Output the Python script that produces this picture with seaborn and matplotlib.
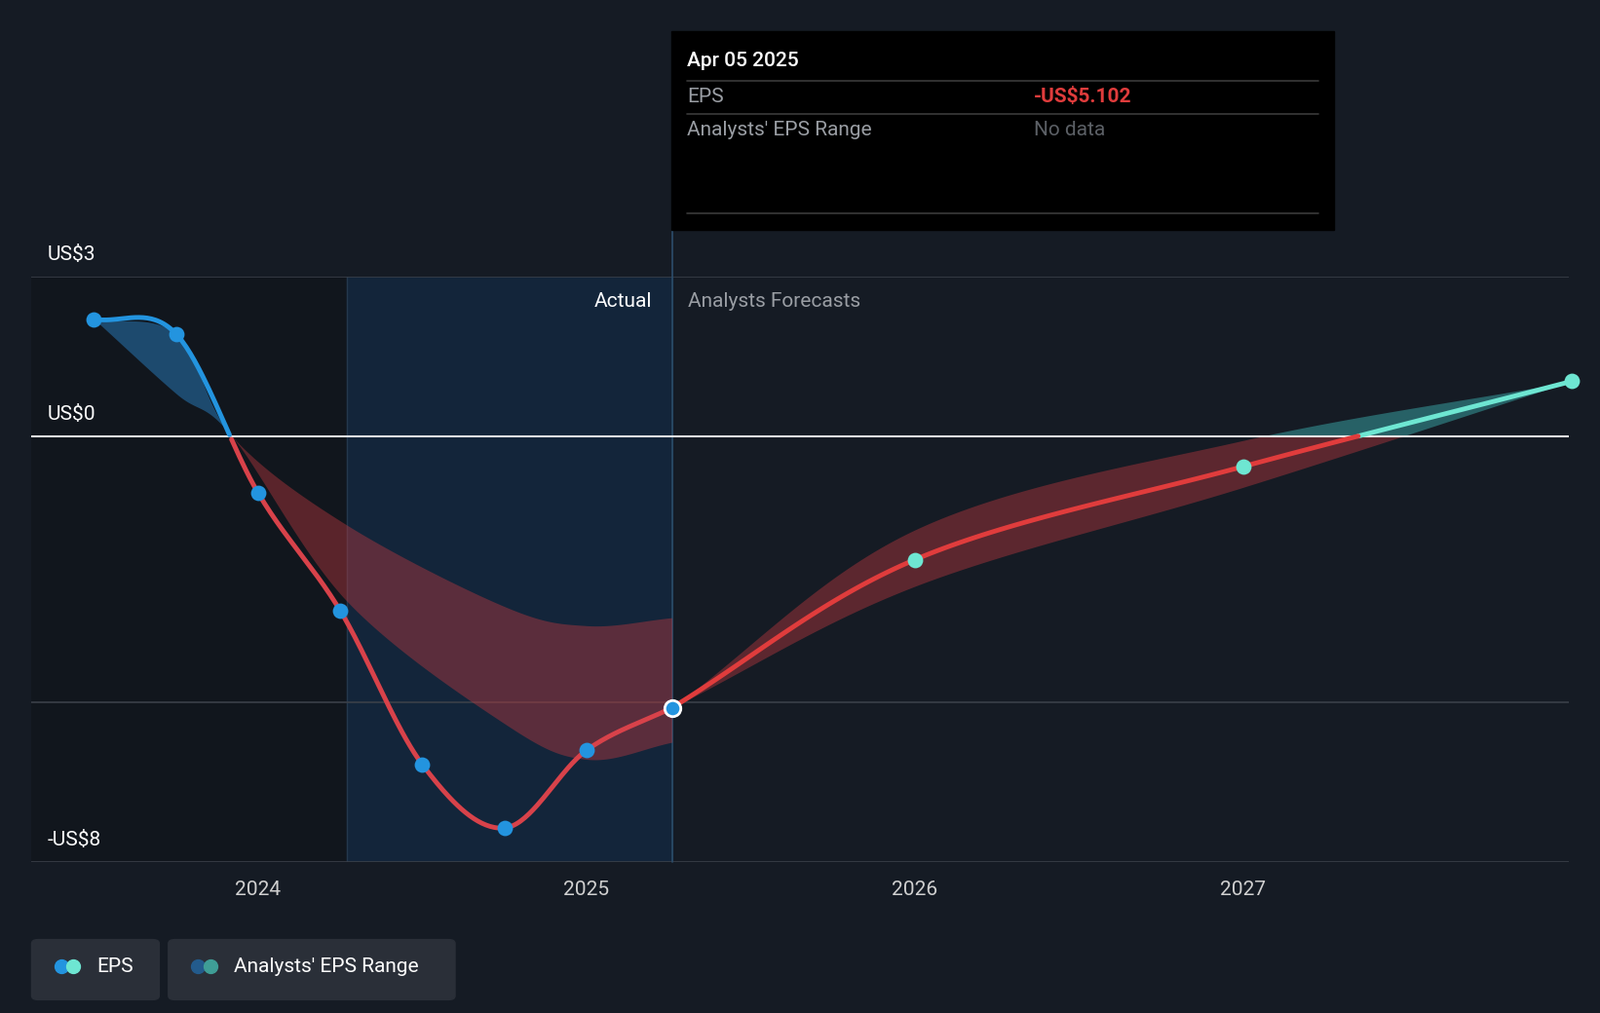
import numpy as np
import pandas as pd
import matplotlib
matplotlib.use("Agg")
import matplotlib.pyplot as plt
from matplotlib.patches import FancyBboxPatch, Rectangle
import seaborn as sns

# ---- data ----
actual_x = [2023.50, 2023.75, 2024.00, 2024.25, 2024.50, 2024.75, 2025.00, 2025.26]
actual_eps = [2.20, 1.92, -1.07, -3.28, -6.17, -7.36, -5.90, -5.102]
fc_x = [2025.26, 2026.00, 2027.00, 2028.00]
fc_eps = [-5.102, -2.32, -0.57, 1.03]
band_hist_x = [2023.50, 2023.75, 2023.92, 2024.27, 2024.75, 2025.00, 2025.26]
band_hist_hi = [2.20, 1.92, 0.0, -1.67, -3.20, -3.56, -3.41]
band_hist_lo = [2.20, 0.80, 0.0, -3.10, -5.40, -6.07, -5.75]
band_fc_x = [2025.26, 2026.00, 2027.00, 2028.00]
band_fc_hi = [-5.102, -1.76, -0.08, 1.03]
band_fc_lo = [-5.102, -2.82, -0.96, 1.03]
yticks = [3, 0, -8]
ytick_labels = ["US$3", "US$0", "-US$8"]
xticks = [2024, 2025, 2026, 2027]

BG = "#151b24"
BLUE = "#2394df"
RED = "#e03c3c"
TEAL = "#6ee6d2"

W, H = 1568, 993
fig = plt.figure(figsize=(16.42, 10.40), dpi=100, facecolor=BG)
sns.set_theme(style="dark", rc={"axes.facecolor": BG})
ax = fig.add_axes([31 / W, 1 - 845 / H, (1537 - 31) / W, (845 - 271) / H])
ax.set_facecolor(BG)
x0, x1 = 2023.31, 2027.99
ax.set_xlim(x0, x1)
ax.set_ylim(-8, 3)
for s in ax.spines.values():
    s.set_visible(False)


def smooth(xs, ys, n=40):
    xs = np.asarray(xs, float); ys = np.asarray(ys, float)
    px = np.concatenate([[2 * xs[0] - xs[1]], xs, [2 * xs[-1] - xs[-2]]])
    py = np.concatenate([[2 * ys[0] - ys[1]], ys, [2 * ys[-1] - ys[-2]]])
    ox, oy = [], []
    for i in range(1, len(px) - 2):
        t = np.linspace(0, 1, n, endpoint=False)
        for P, O in ((px, ox), (py, oy)):
            p0, p1, p2, p3 = P[i - 1], P[i], P[i + 1], P[i + 2]
            O.extend(0.5 * (2 * p1 + (-p0 + p2) * t + (2 * p0 - 5 * p1 + 4 * p2 - p3) * t ** 2
                            + (-p0 + 3 * p1 - 3 * p2 + p3) * t ** 3))
    ox.append(xs[-1]); oy.append(ys[-1])
    return np.array(ox), np.array(oy)

# shaded regions
ax.axvspan(x0, 2024.27, color="#11161d", zorder=0)
ax.axvspan(2024.27, 2025.26, color="#13253a", zorder=0)
ax.axvline(2024.27, color="#24384d", lw=1, zorder=0.5)

# grid lines
for yv in (3, -5, -8):
    ax.axhline(yv, color="#3a4049", lw=1.2, zorder=1)
ax.axhline(0, color="#e8e8e8", lw=1.5, zorder=3)

# bands
for bx, hi, lo, n, pc in [(band_hist_x, band_hist_hi, band_hist_lo, 30, "#2a7fc0"),
                          (band_fc_x, band_fc_hi, band_fc_lo, 40, "#3aa8a8")]:
    sx, sh = smooth(bx, hi, n)
    _, sl = smooth(bx, lo, n)
    ax.fill_between(sx, np.minimum(sh, 0), np.minimum(sl, 0), color="#c0393f", alpha=0.42, lw=0, zorder=2)
    ax.fill_between(sx, np.maximum(sh, 0), np.maximum(sl, 0), color=pc, alpha=0.5, lw=0, zorder=2)

# lines
for xs, ys, pos_c, neg_c in [(actual_x, actual_eps, BLUE, "#d8424a"), (fc_x, fc_eps, TEAL, RED)]:
    sx, sy = smooth(xs, ys)
    ax.plot(sx, np.where(sy >= 0, sy, np.nan), color=pos_c, lw=3.5, zorder=4, solid_capstyle="round")
    ax.plot(sx, np.where(sy <= 0.02, sy, np.nan), color=neg_c, lw=3.5, zorder=4, solid_capstyle="round")

pts = pd.DataFrame({"x": actual_x[:-1], "y": actual_eps[:-1]})
sns.scatterplot(data=pts, x="x", y="y", ax=ax, color=BLUE, s=130, edgecolor=BG, linewidth=0, zorder=5)
fpts = pd.DataFrame({"x": fc_x[1:], "y": fc_eps[1:]})
sns.scatterplot(data=fpts, x="x", y="y", ax=ax, color=TEAL, s=130, edgecolor=BG, linewidth=0, zorder=5, clip_on=False)
ax.scatter([actual_x[-1]], [actual_eps[-1]], s=140, color=BLUE, edgecolor="white", linewidth=2, zorder=6)

# vertical marker line extending to tooltip
ax.plot([2025.26, 2025.26], [-8, 3.9], color="#2c4d6a", lw=1.2, zorder=1, clip_on=False)

ax.set_xlabel(""); ax.set_ylabel("")
ax.set_xticks(xticks)
ax.set_xticklabels([str(x) for x in xticks], color="#d0d0d0", fontsize=15, fontfamily="Roboto")
ax.tick_params(axis="x", length=0, pad=14)
ax.set_yticks([])
for yv, lab in zip(yticks, ytick_labels):
    ax.text(2023.31 + 0.047, yv + 0.24, lab, color="white", fontsize=15, fontfamily="Roboto",
            va="bottom", ha="left", clip_on=False)

ax.text(2025.2, 2.53, "Actual", color="white", fontsize=15, fontfamily="Roboto", ha="right", va="center")
ax.text(2025.31, 2.53, "Analysts Forecasts", color="#9a9ea4", fontsize=15, fontfamily="Roboto", ha="left", va="center")

# tooltip
def fx(px): return px / W
def fy(py): return 1 - py / H
fig.patches.append(Rectangle((fx(658), fy(225)), fx(1307) - fx(658), fy(31) - fy(225),
                             transform=fig.transFigure, color="black", zorder=10))
fig.text(fx(673), fy(60), "Apr 05 2025", color="white", fontsize=15, fontweight="medium", fontfamily="Roboto", va="center", zorder=11)
for yy in (79, 112, 209):
    fig.add_artist(plt.Line2D([fx(673), fx(1292)], [fy(yy), fy(yy)], color="#3a3a3a", lw=1.2, zorder=11))
fig.text(fx(673), fy(95), "EPS", color="#9a9ea4", fontsize=15, fontfamily="Roboto", va="center", zorder=11)
fig.text(fx(1013), fy(95), "-US$5.102", color=RED, fontsize=15, fontweight="bold", fontfamily="Roboto", va="center", zorder=11)
fig.text(fx(673), fy(127), "Analysts' EPS Range", color="#9a9ea4", fontsize=15, fontfamily="Roboto", va="center", zorder=11)
fig.text(fx(1013), fy(127), "No data", color="#5c6066", fontsize=15, fontfamily="Roboto", va="center", zorder=11)

# legend
for (l, r, label, c1, c2, tx) in [(31, 156, "EPS", BLUE, TEAL, 95), (165, 446, "Analysts' EPS Range", "#235b8c", "#3f9e96", 229)]:
    fig.patches.append(FancyBboxPatch((fx(l), fy(980)), fx(r) - fx(l), fy(921) - fy(980),
                                      boxstyle="round,pad=0,rounding_size=0.004", transform=fig.transFigure,
                                      color="#2a2f38", zorder=10))
    fig.add_artist(plt.Line2D([fx(tx - 35)], [fy(947)], marker="o", markersize=10, color=c1, zorder=11))
    fig.add_artist(plt.Line2D([fx(tx - 23)], [fy(947)], marker="o", markersize=10, color=c2, zorder=12))
    fig.text(fx(tx), fy(948), label, color="white", fontsize=15, fontfamily="Roboto", va="center", zorder=11)

fig.savefig("out.png", dpi=100, facecolor=BG)
